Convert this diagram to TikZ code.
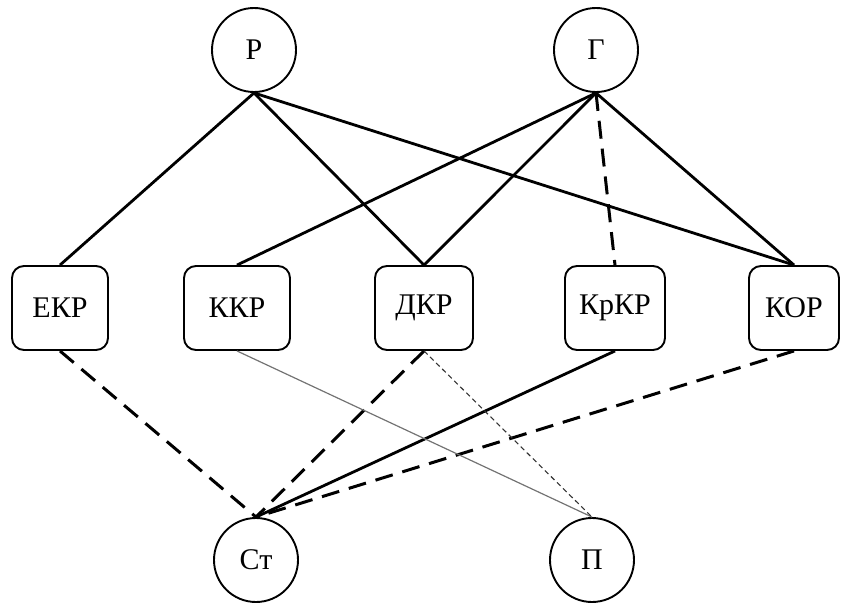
\documentclass[tikz,border=0pt]{standalone}
\usepackage{fontspec}
\setmainfont{Liberation Serif}
\begin{document}
\begin{tikzpicture}[x=1pt,y=-1pt,
  circ/.style={circle,draw,line width=1.9pt,minimum size=84pt,inner sep=0pt,font=\fontsize{30}{33}\selectfont},
  rbox/.style={rectangle,rounded corners=12pt,draw,line width=1.9pt,minimum height=84pt,inner sep=0pt,font=\fontsize{30}{33}\selectfont},
  solidl/.style={line width=2.8pt},
  dashl/.style={line width=3pt,dash pattern=on 18pt off 10pt},
  thinl/.style={line width=1.2pt,draw=black!55},
  dotl/.style={line width=1.1pt,draw=black!80,dash pattern=on 5pt off 3.5pt}]
\useasboundingbox (0,0) rectangle (842,602);
\node[circ] (P) at (254,50) {Р};
\node[circ] (G) at (596,50) {Г};
\node[rbox,minimum width=96pt] (EKR) at (60,308) {ЕКР};
\node[rbox,minimum width=106pt] (KKR) at (237,308) {ККР};
\node[rbox,minimum width=98pt] (DKR) at (424,308) {ДКР};
\node[rbox,minimum width=100pt] (KrKR) at (615,308) {КрКР};
\node[rbox,minimum width=90pt] (KOR) at (794,308) {КОР};
\node[circ] (St) at (256,560) {Ст};
\node[circ] (Pi) at (592,560) {П};
\draw[solidl] (P.south) -- (EKR.north);
\draw[solidl] (P.south) -- (DKR.north);
\draw[solidl] (P.south) -- (KOR.north);
\draw[solidl] (G.south) -- (KKR.north);
\draw[solidl] (G.south) -- (DKR.north);
\draw[dashl] (G.south) -- (KrKR.north);
\draw[solidl] (G.south) -- (KOR.north);
\draw[dashl] (EKR.south) -- (St.north);
\draw[dashl] (DKR.south) -- (St.north);
\draw[solidl] (KrKR.south) -- (St.north);
\draw[dashl] (KOR.south) -- (St.north);
\draw[thinl] (KKR.south) -- (Pi.north);
\draw[dotl] (DKR.south) -- (Pi.north);
\end{tikzpicture}
\end{document}
